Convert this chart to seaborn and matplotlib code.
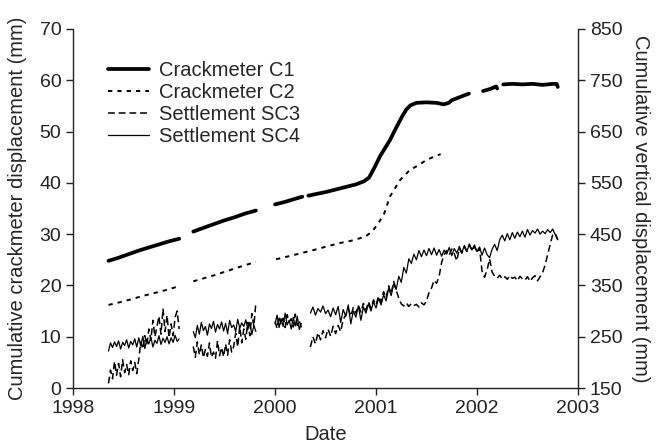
import numpy as np
import pandas as pd
import seaborn as sns
import matplotlib.pyplot as plt
from matplotlib.lines import Line2D

nan = np.nan

# Crackmeters (left axis, mm); nan marks a gap in the record
c1_year = [1998.35, 1998.45, 1998.55, 1998.65, 1998.75, 1998.85, 1998.95, 1999.05, nan,
           1999.19, 1999.30, 1999.40, 1999.50, 1999.60, 1999.70, 1999.81, nan,
           2000.00, 2000.10, 2000.20, 2000.27, nan,
           2000.33, 2000.40, 2000.50, 2000.60, 2000.70, 2000.80, 2000.88, 2000.93, 2000.98,
           2001.04, 2001.09, 2001.14, 2001.18, 2001.22, 2001.26, 2001.30, 2001.34, 2001.40,
           2001.50, 2001.60, 2001.67, 2001.72, 2001.75, 2001.84, 2001.92, nan,
           2002.06, 2002.13, 2002.19, 2002.20, nan,
           2002.26, 2002.35, 2002.45, 2002.55, 2002.65, 2002.75, 2002.79, 2002.80]
c1_mm = [24.8, 25.4, 26.1, 26.8, 27.4, 28.0, 28.6, 29.1, nan,
         30.5, 31.3, 32.0, 32.7, 33.3, 34.0, 34.6, nan,
         35.8, 36.3, 36.9, 37.3, nan,
         37.5, 37.8, 38.2, 38.7, 39.2, 39.7, 40.3, 41.0, 42.8,
         45.2, 46.8, 48.4, 50.0, 51.5, 53.0, 54.3, 55.1, 55.6,
         55.7, 55.6, 55.3, 55.6, 56.1, 56.8, 57.4, nan,
         57.9, 58.3, 58.8, 58.4, nan,
         59.2, 59.3, 59.2, 59.3, 59.1, 59.3, 59.3, 58.7]

c2_year = [1998.35, 1998.50, 1998.70, 1998.90, 1999.04, nan,
           1999.19, 1999.40, 1999.60, 1999.81, nan,
           2000.01, 2000.20, 2000.40, 2000.55, 2000.65, 2000.75, 2000.84, 2000.90, 2000.96,
           2001.02, 2001.08, 2001.14, 2001.24, 2001.34, 2001.42, 2001.50, 2001.64]
c2_mm = [16.2, 16.9, 18.0, 19.0, 19.8, nan,
         20.8, 22.0, 23.3, 24.6, nan,
         25.1, 26.0, 27.0, 27.8, 28.3, 28.7, 29.2, 29.6, 30.5,
         32.0, 34.0, 37.4, 40.6, 42.6, 43.4, 44.5, 45.6]

# Settlement gauges (right axis, mm)
sc_year = [
    1998.35, 1998.37, 1998.39, 1998.41, 1998.43, 1998.45, 1998.47, 1998.49, 1998.51, 1998.53,
    1998.55, 1998.57, 1998.59, 1998.61, 1998.63, 1998.65, 1998.67, 1998.69, 1998.71, 1998.73,
    1998.75, 1998.77, 1998.79, 1998.81, 1998.83, 1998.85, 1998.87, 1998.89, 1998.91, 1998.93,
    1998.95, 1998.97, 1998.99, 1999.01, 1999.03, 1999.05, nan,
    1999.19, 1999.21, 1999.23, 1999.25, 1999.27, 1999.29, 1999.31, 1999.33, 1999.35, 1999.37,
    1999.39, 1999.41, 1999.43, 1999.45, 1999.47, 1999.49, 1999.51, 1999.53, 1999.55, 1999.57,
    1999.59, 1999.61, 1999.63, 1999.65, 1999.67, 1999.69, 1999.71, 1999.73, 1999.75, 1999.77,
    1999.79, 1999.81, nan,
    2000.00, 2000.02, 2000.04, 2000.06, 2000.08, 2000.10, 2000.12, 2000.14, 2000.16, 2000.18,
    2000.20, 2000.22, 2000.24, 2000.26, nan,
    2000.350, 2000.375, 2000.400, 2000.425, 2000.450, 2000.475, 2000.500, 2000.525, 2000.550,
    2000.575, 2000.600, 2000.625, 2000.650, 2000.675, 2000.700, 2000.725, 2000.750, 2000.775,
    2000.800, 2000.825, 2000.850, 2000.875, 2000.900, 2000.925, 2000.950, 2000.975,
    2001.000, 2001.025, 2001.050, 2001.075, 2001.100, 2001.125, 2001.150, 2001.175, 2001.200,
    2001.225, 2001.250, 2001.275, 2001.300, 2001.325, 2001.350, 2001.375, 2001.400, 2001.425,
    2001.450, 2001.475, 2001.500, 2001.525, 2001.550, 2001.575, 2001.600, 2001.625, 2001.650,
    2001.675, 2001.700, 2001.725, 2001.750, 2001.775, 2001.800, 2001.825, 2001.850, 2001.875,
    2001.900, 2001.925, 2001.950, 2001.975,
    2002.000, 2002.025, 2002.050, 2002.075, 2002.100, 2002.125, 2002.150, 2002.175, 2002.200,
    2002.225, 2002.250, 2002.275, 2002.300, 2002.325, 2002.350, 2002.375, 2002.400, 2002.425,
    2002.450, 2002.475, 2002.500, 2002.525, 2002.550, 2002.575, 2002.600, 2002.625, 2002.650,
    2002.675, 2002.700, 2002.725, 2002.750, 2002.775, 2002.800]

sc3_mm = [
    159, 185, 168, 202, 175, 198, 172, 205, 180, 196,
    176, 203, 184, 200, 178, 206, 240, 226, 252, 234,
    265, 243, 282, 250, 270, 290, 255, 305, 260, 292,
    248, 275, 252, 288, 300, 265, nan,
    231, 210, 240, 215, 234, 209, 225, 212, 238, 210,
    220, 208, 242, 213, 229, 211, 236, 214, 244, 220,
    231, 257, 230, 270, 238, 265, 245, 278, 252, 295,
    270, 318, nan,
    280, 266, 290, 274, 286, 268, 293, 279, 285, 269,
    294, 272, 281, 268, nan,
    230, 250, 236, 258, 244, 262, 248, 265, 251, 270,
    256, 272, 260, 284, 292, 305, 290, 307, 296, 311,
    298, 315, 302, 318, 306, 322,
    312, 329, 318, 338, 326, 349, 334, 358, 341, 325,
    314, 310, 316, 309, 315, 311, 313, 308, 316, 312,
    320, 336, 345, 360, 354, 368, 395, 410, 418, 409,
    421, 412, 398, 422, 413, 425, 416, 429, 418, 426,
    414, 423, 378, 366, 380, 402, 376, 368, 364, 370,
    363, 367, 362, 369, 364, 366, 359, 368, 363, 360,
    367, 358, 365, 369, 359, 367, 375, 390, 410, 430,
    449, 452, 439]

sc4_mm = [
    222, 238, 229, 240, 231, 242, 226, 239, 233, 244,
    228, 241, 234, 246, 230, 248, 232, 251, 227, 245,
    236, 249, 230, 243, 237, 252, 235, 247, 239, 250,
    236, 248, 239, 253, 241, 246, nan,
    260, 248, 272, 255, 278, 262, 270, 253, 275, 266,
    280, 259, 274, 265, 279, 261, 276, 256, 282, 268,
    273, 260, 284, 267, 277, 270, 283, 264, 278, 254,
    272, 260, nan,
    275, 292, 268, 285, 270, 296, 273, 282, 265, 288,
    271, 290, 264, 276, nan,
    296, 308, 292, 305, 298, 310, 295, 302, 289, 306,
    293, 309, 278, 303, 290, 312, 275, 300, 288, 310,
    282, 308, 296, 314, 300, 318,
    306, 325, 312, 332, 320, 345, 330, 353, 342, 368,
    356, 385, 374, 402, 393, 411, 400, 418, 406, 419,
    408, 422, 410, 423, 409, 420, 407, 419, 411, 424,
    408, 422, 413, 426, 414, 428, 417, 431, 419, 429,
    416, 425, 409, 423, 410, 404, 421, 430, 418, 439,
    448, 437, 451, 439, 453, 442, 454, 445, 456, 444,
    459, 448, 457, 452, 460, 450, 456, 451, 459, 453,
    460, 449, 439]

labels = ['Crackmeter C1', 'Crackmeter C2', 'Settlement SC3', 'Settlement SC4']


def to_frame(years, values):
    # split the record into separate runs at each nan
    df = pd.DataFrame({'year': years, 'mm': values})
    df['seg'] = df['mm'].isna().cumsum()
    return df.dropna()


sns.set_style('ticks')
plt.rcParams['font.family'] = ['Liberation Sans', 'DejaVu Sans']
plt.rcParams['font.size'] = 14

fig, ax = plt.subplots(figsize=(6.59, 4.46), dpi=100)
fig.subplots_adjust(left=0.111, right=0.877, bottom=0.130, top=0.935)
ax2 = ax.twinx()

styles = [
    dict(lw=2.7, ls='-'),
    dict(lw=1.4, ls=(0, (2.2, 2.6))),
    dict(lw=1.1, ls=(0, (4.5, 2.5))),
    dict(lw=0.9, ls='-'),
]

sns.lineplot(data=to_frame(c1_year, c1_mm), x='year', y='mm', units='seg', estimator=None,
             color='black', linewidth=styles[0]['lw'], linestyle=styles[0]['ls'], ax=ax)
sns.lineplot(data=to_frame(c2_year, c2_mm), x='year', y='mm', units='seg', estimator=None,
             color='black', linewidth=styles[1]['lw'], linestyle=styles[1]['ls'], ax=ax)
sns.lineplot(data=to_frame(sc_year, sc3_mm), x='year', y='mm', units='seg', estimator=None,
             color='black', linewidth=styles[2]['lw'], linestyle=styles[2]['ls'], ax=ax2)
sns.lineplot(data=to_frame(sc_year, sc4_mm), x='year', y='mm', units='seg', estimator=None,
             color='black', linewidth=styles[3]['lw'], linestyle=styles[3]['ls'], ax=ax2)

ax.set_xlim(1998, 2003)
ax.set_ylim(0, 70)
ax.set_xticks(range(1998, 2004))
ax.set_yticks(range(0, 71, 10))
ax2.set_ylim(150, 850)
ax2.set_yticks(range(150, 851, 100))

for a in (ax, ax2):
    a.tick_params(labelsize=14, length=5, width=1, colors='#222222', direction='out')
    for s in a.spines.values():
        s.set_color('#222222')
        s.set_linewidth(1)
ax.spines['top'].set_visible(False)
ax.spines['right'].set_visible(False)
ax2.spines['top'].set_visible(False)
ax2.spines['left'].set_visible(False)
ax2.spines['bottom'].set_visible(False)

ax.set_xlabel('Date', fontsize=14.5, labelpad=6)
ax.set_ylabel('Cumulative crackmeter displacement (mm)', fontsize=14.5, labelpad=9)
ax2.set_ylabel('Cumulative vertical displacement (mm)', fontsize=14.5, rotation=270, labelpad=20)

handles = [Line2D([], [], color='black', linewidth=s['lw'], linestyle=s['ls']) for s in styles]
ax.legend(handles, labels, loc='upper left', bbox_to_anchor=(0.05, 0.94), frameon=False,
          fontsize=14.5, handlelength=2.0, handletextpad=0.5, labelspacing=0.15, borderpad=0)

fig.savefig('out.png', dpi=100)
